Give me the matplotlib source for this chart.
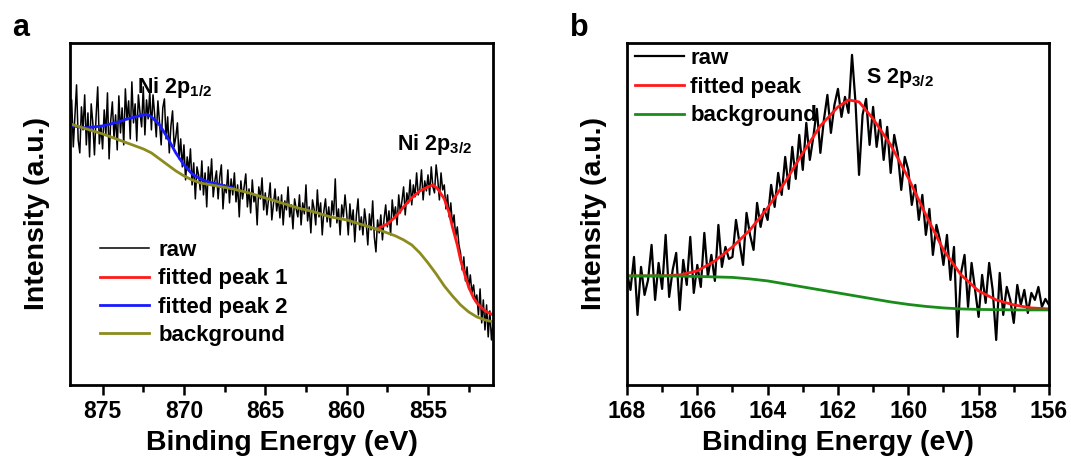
import matplotlib
matplotlib.use("Agg")
import matplotlib.pyplot as plt
import numpy as np
from matplotlib.ticker import MultipleLocator

plt.rcParams['font.family'] = ['Liberation Sans', 'DejaVu Sans']
plt.rcParams['font.weight'] = 'bold'
plt.rcParams['mathtext.fontset'] = 'custom'
plt.rcParams['mathtext.bf'] = 'Liberation Sans:bold'
plt.rcParams['mathtext.rm'] = 'Liberation Sans:bold'

# ---- Ni 2p spectrum (panel a), 0.1 eV steps from 877.0 down to 851.0 ----
ni_energy = np.round(np.arange(877.0, 850.95, -0.1), 1)
ni_raw = [
    262, 285, 238, 270, 300, 245, 232, 278, 255, 290,
    240, 272, 228, 281, 262, 230, 268, 298, 241, 259,
    236, 275, 250, 292, 226, 264, 283, 247, 270, 235,
    289, 252, 277, 240, 296, 265, 284, 246, 303, 262,
    281, 244, 290, 272, 258, 298, 250, 285, 266, 293,
    255, 290, 270, 248, 284, 262, 240, 277, 286, 246,
    268, 232, 259, 274, 238, 248, 262, 226, 246, 218,
    240, 205, 228, 214, 236, 200, 222, 186, 218, 210,
    195, 224, 190, 212, 178, 218, 200, 226, 188, 204,
    214, 186, 208, 220, 176, 200, 192, 215, 182, 206,
    190, 212, 183, 200, 168, 204, 186, 198, 211, 178,
    196, 172, 205, 183, 190, 160, 198, 186, 207, 175,
    192, 170, 186, 202, 165, 180, 196, 174, 188, 167,
    190, 160, 184, 175, 198, 168, 180, 156, 186, 176,
    168, 190, 160, 182, 171, 200, 164, 178, 152, 185,
    176, 160, 195, 168, 182, 150, 174, 186, 163, 178,
    158, 184, 170, 206, 162, 176, 150, 180, 168, 190,
    172, 150, 181, 160, 175, 143, 170, 186, 155, 168,
    150, 176, 162, 140, 171, 155, 184, 148, 133, 165,
    152, 170, 145, 166, 180, 158, 174, 150, 185, 168,
    178, 160, 190, 172, 184, 198, 170, 192, 182, 205,
    180, 200, 188, 212, 190, 196, 215, 185, 204, 194,
    210, 190, 218, 198, 192, 220, 205, 185, 212, 195,
    200, 176, 190, 168, 182, 160, 170, 148, 158, 140,
    132, 115, 128, 104, 118, 96, 110, 92, 100, 84,
    90, 70, 96, 62, 85, 55, 80, 48, 74, 45,
    62,
]

ni_peak1_energy = [858.2, 858.0, 857.5, 857.0, 856.5, 856.0, 855.5, 855.0, 854.7,
                   854.4, 854.0, 853.7, 853.5, 853.2, 853.0, 852.7, 852.5, 852.2,
                   852.0, 851.5, 851.0]
ni_peak1 = [156, 157, 161, 168, 178, 187, 194, 198, 200,
            196, 186, 172, 158, 140, 125, 108, 98, 87,
            82, 74, 70]

ni_peak2_energy = [877.0, 876.5, 876.0, 875.5, 875.0, 874.5, 874.0, 873.5, 873.0,
                   872.5, 872.2, 872.0, 871.5, 871.0, 870.5, 870.0, 869.5, 869.0,
                   868.5, 868.0, 867.5, 867.0]
ni_peak2 = [260, 258, 257, 258, 259, 261, 263, 266, 268,
            270, 270, 268, 260, 247, 232, 220, 211, 206,
            203, 201, 199, 197]

ni_bg_energy = [877.0, 876.0, 875.0, 874.0, 873.0, 872.5, 872.0, 871.5, 871.0,
                870.5, 870.0, 869.5, 869.0, 868.0, 867.0, 866.0, 865.0, 864.0,
                863.0, 862.0, 861.0, 860.0, 859.0, 858.0, 857.5, 857.0, 856.5,
                856.0, 855.5, 855.0, 854.5, 854.0, 853.5, 853.0, 852.5, 852.0,
                851.5, 851.0]
ni_bg = [261, 256, 251, 245, 239, 236, 232, 226, 220,
         214, 209, 205, 202, 199, 196, 192, 187, 182,
         177, 173, 168, 165, 160, 155, 152, 149, 145,
         140, 132, 122, 111, 99, 89, 80, 73, 68,
         65, 63]

# ---- S 2p spectrum (panel b), 0.1 eV steps from 168.0 down to 156.0 ----
s_energy = np.round(np.arange(168.0, 155.95, -0.1), 1)
s_raw = [
    112, 95, 128, 70, 118, 90, 105, 140, 85, 122,
    96, 150, 88, 115, 132, 75, 125, 100, 148, 92,
    120, 98, 152, 108, 130, 104, 160, 118, 138, 126,
    128, 165, 142, 120, 172, 150, 135, 182, 158, 176,
    165, 200, 178, 212, 190, 228, 196, 238, 206, 250,
    215, 262, 225, 248, 276, 232, 265, 290, 252, 280,
    296, 268, 288, 272, 330, 282, 210, 270, 286, 240,
    278, 238, 265, 225, 258, 212, 250, 232, 195, 228,
    215, 180, 200, 165, 190, 150, 176, 130, 160, 145,
    120, 150, 105, 138, 48, 112, 130, 78, 122, 95,
    68, 110, 82, 122, 95, 45, 112, 70, 98, 85,
    62, 100, 80, 95, 72, 92, 85, 98, 78, 86,
    80,
]

s_peak_energy = [168.0, 167.0, 166.5, 166.0, 165.5, 165.0, 164.5, 164.0, 163.5,
                 163.0, 162.5, 162.0, 161.7, 161.4, 161.0, 160.5, 160.0, 159.5,
                 159.0, 158.5, 158.0, 157.5, 157.0, 156.5, 156.0]
s_peak = [109, 109, 110, 114, 124, 138, 155, 177, 203,
          232, 259, 278, 285, 283, 266, 240, 207, 170,
          135, 110, 94, 85, 80, 77, 76]

s_bg_energy = [168.0, 167.0, 166.0, 165.0, 164.5, 164.0, 163.5, 163.0, 162.5,
               162.0, 161.5, 161.0, 160.5, 160.0, 159.5, 159.0, 158.5, 158.0,
               157.0, 156.0]
s_bg = [109, 109, 108.5, 107.5, 106, 104, 101, 98, 95,
        92, 89, 86, 83, 80.5, 78.5, 77, 76, 75.5,
        75, 75]

fig = plt.figure(figsize=(10.71, 4.61), dpi=100)
ax_a = fig.add_axes([0.0654, 0.165, 0.395, 0.742])
ax_b = fig.add_axes([0.5854, 0.165, 0.394, 0.742])


def style_axes(ax, xlim, major, minor):
    ax.set_xlim(*xlim)
    ax.set_ylim(0, 342)
    ax.xaxis.set_major_locator(MultipleLocator(major))
    ax.xaxis.set_minor_locator(MultipleLocator(minor))
    ax.set_yticks([])
    ax.tick_params(axis='x', which='major', direction='out', length=7, width=1.8,
                   labelsize=16.5, pad=4)
    ax.tick_params(axis='x', which='minor', direction='out', length=5, width=1.8)
    for sp in ax.spines.values():
        sp.set_linewidth(2.0)
    ax.set_xlabel('Binding Energy (eV)', fontsize=20.5, fontweight='bold', labelpad=5)
    ax.set_ylabel('Intensity (a.u.)', fontsize=20.5, fontweight='bold', labelpad=14.5)
    for lbl in ax.get_xticklabels():
        lbl.set_fontweight('bold')


# panel a
ax_a.plot(ni_energy, ni_raw, color='black', lw=1.1, label='raw')
ax_a.plot(ni_peak1_energy, ni_peak1, color='#ff1a1a', lw=2.0, label='fitted peak 1')
ax_a.plot(ni_peak2_energy, ni_peak2, color='#1a1aff', lw=2.0, label='fitted peak 2')
ax_a.plot(ni_bg_energy, ni_bg, color='#8c8c1e', lw=2.0, label='background')
style_axes(ax_a, (877, 851), 5, 2.5)
ax_a.legend(loc='lower left', bbox_to_anchor=(0.035, 0.068), frameon=False,
            prop={'size': 16, 'weight': 'bold'}, handlelength=2.2,
            handletextpad=0.4, labelspacing=0.33, borderpad=0.2)
ax_a.text(870.6, 292, r'Ni 2p$_{\mathbf{1/2}}$', fontsize=15.5, fontweight='bold',
          ha='center', va='baseline')
ax_a.text(854.6, 235, r'Ni 2p$_{\mathbf{3/2}}$', fontsize=15.5, fontweight='bold',
          ha='center', va='baseline')

# panel b
ax_b.plot(s_energy, s_raw, color='black', lw=1.6, label='raw')
ax_b.plot(s_peak_energy, s_peak, color='#ff1a1a', lw=2.0, label='fitted peak')
ax_b.plot(s_bg_energy, s_bg, color='#1a8c1a', lw=2.0, label='background')
style_axes(ax_b, (168, 156), 2, 1)
ax_b.legend(loc='upper left', bbox_to_anchor=(-0.018, 1.03), frameon=False,
            prop={'size': 16, 'weight': 'bold'}, handlelength=2.2,
            handletextpad=0.3, labelspacing=0.34, borderpad=0.2)
ax_b.text(160.25, 302, r'S 2p$_{\mathbf{3/2}}$', fontsize=15.5, fontweight='bold',
          ha='center', va='baseline')

fig.text(0.011, 0.94, 'a', fontsize=22, fontweight='bold', va='center')
fig.text(0.532, 0.94, 'b', fontsize=22, fontweight='bold', va='center')

fig.savefig('out.png', dpi=100)
